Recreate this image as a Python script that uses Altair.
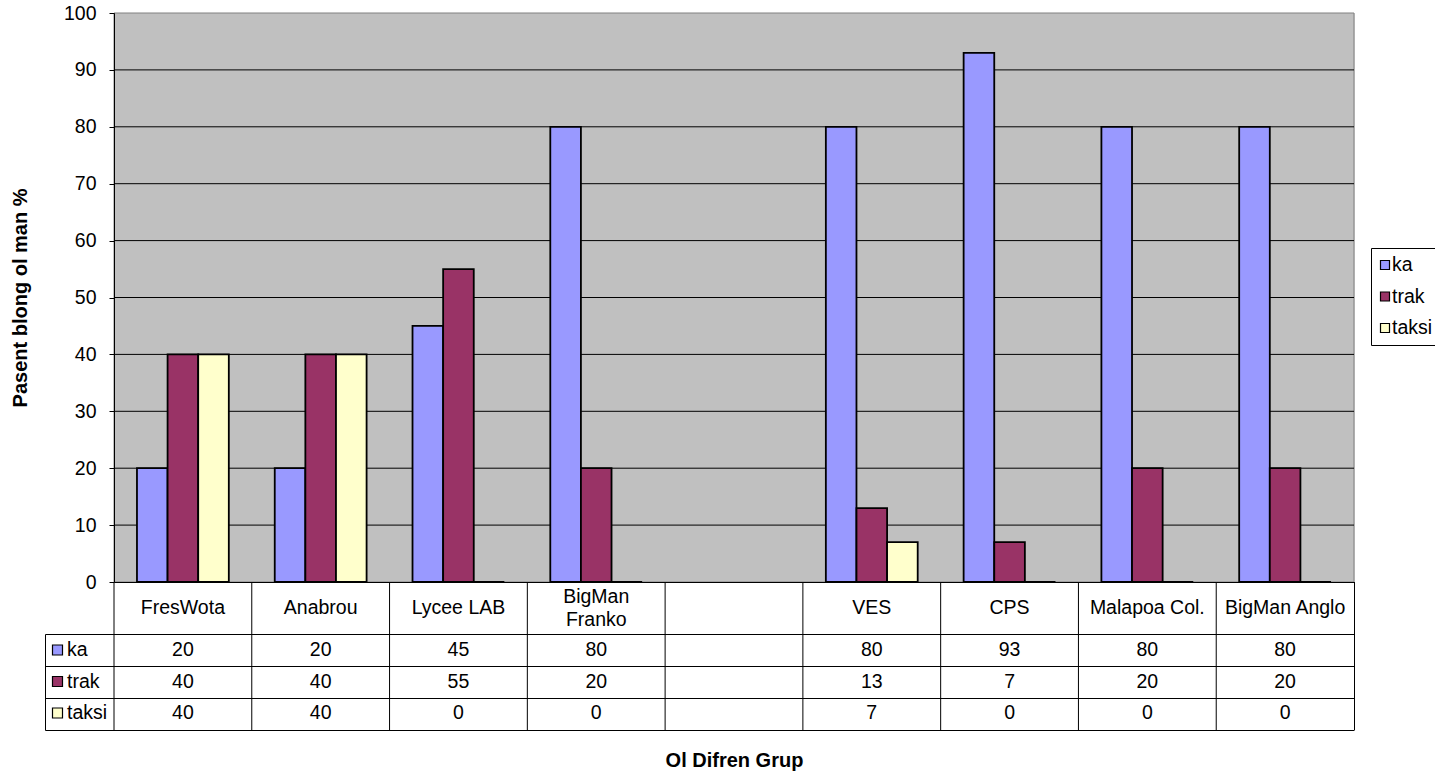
import altair as alt
import pandas as pd

# ---- data ----
categories = ["FresWota", "Anabrou", "Lycee LAB", "BigMan Franko", " ",
              "VES", "CPS", "Malapoa Col.", "BigMan Anglo"]
header_labels = ["FresWota", "Anabrou", "Lycee LAB", "BigMan\nFranko", "",
                 "VES", "CPS", "Malapoa Col.", "BigMan Anglo"]
series = ["ka", "trak", "taksi"]
ka = [20, 20, 45, 80, None, 80, 93, 80, 80]
trak = [40, 40, 55, 20, None, 13, 7, 20, 20]
taksi = [40, 40, 0, 0, None, 7, 0, 0, 0]
colors = ["#9999FF", "#993366", "#FFFFCC"]
y_ticks = [0, 10, 20, 30, 40, 50, 60, 70, 80, 90, 100]

recs = []
for si, (name, vals) in enumerate(zip(series, [ka, trak, taksi])):
    for c, v in zip(categories, vals):
        if v is not None:
            recs.append({"category": c, "series": name, "value": v, "row": si})
long = pd.DataFrame(recs)
header_df = pd.DataFrame({"category": categories, "label": header_labels})
header_df["multi"] = header_df["label"].str.contains("\n")
key_df = pd.DataFrame({"series": series, "row": list(range(len(series)))})
cat_df = pd.DataFrame({"category": categories})
grid_df = pd.DataFrame({"v": [t for t in y_ticks if 0 < t < 100]})
dummy = pd.DataFrame({"d": [0]})

FONT = "Liberation Sans"
FS = 19.5
W, H = 1240, 569

xscale = alt.Scale(domain=categories, paddingInner=0, paddingOuter=0)
yscale = alt.Scale(domain=[0, 100], nice=False)
rowscale = alt.Scale(domain=[0, 2], range=[637, 700])
legscale = alt.Scale(domain=[0, 2], range=[252, 315])
color_enc = alt.Color("series:N", scale=alt.Scale(domain=series, range=colors),
                      legend=None)

background = alt.Chart(dummy).mark_rect(
    fill="#C0C0C0", stroke="#808080", strokeWidth=1
).encode(x=alt.value(0), x2=alt.value(W), y=alt.value(0), y2=alt.value(H))

grid = alt.Chart(grid_df).mark_rule(color="black", strokeWidth=1).encode(
    y=alt.Y("v:Q", scale=yscale, axis=None), x=alt.value(0), x2=alt.value(W))

bars = alt.Chart(long).mark_bar(stroke="black", strokeWidth=1.8).encode(
    x=alt.X("category:N", scale=xscale, sort=categories,
            axis=alt.Axis(labels=False, ticks=False, domainColor="black",
                          domainWidth=1, zindex=1, title="Ol Difren Grup",
                          titleFont=FONT, titleFontSize=20, titleFontWeight="bold",
                          titleColor="black", titleX=W / 2, titleY=178,
                          titleAlign="center", titleBaseline="middle")),
    xOffset=alt.XOffset("series:N",
                        scale=alt.Scale(domain=series, paddingOuter=0.75, paddingInner=0)),
    y=alt.Y("value:Q", scale=yscale,
            axis=alt.Axis(values=y_ticks, grid=False, zindex=1,
                          domainColor="black", tickColor="black",
                          tickSize=5, labelPadding=13, labelFont=FONT,
                          labelFontSize=FS, labelColor="black",
                          title="Pasent blong ol man %", titleFont=FONT,
                          titleFontSize=20, titleFontWeight="bold",
                          titleColor="black", titleAngle=-90, titleX=-94,
                          titleY=H / 2, titleAlign="center",
                          titleBaseline="middle")),
    color=color_enc,
)

header_single = alt.Chart(header_df).transform_filter(
    "!datum.multi"
).mark_text(
    fontSize=FS, font=FONT, color="black", align="center", baseline="middle"
).encode(x=alt.X("category:N", scale=xscale), y=alt.value(595), text="label:N")

header_multi = alt.Chart(header_df).transform_filter(
    "datum.multi"
).mark_text(
    fontSize=FS, font=FONT, color="black", align="center", baseline="middle",
    lineBreak="\n", lineHeight=23,
).encode(x=alt.X("category:N", scale=xscale), y=alt.value(584), text="label:N")

values = alt.Chart(long).mark_text(
    fontSize=FS, font=FONT, color="black", align="center", baseline="middle"
).encode(
    x=alt.X("category:N", scale=xscale),
    y=alt.Y("row:Q", scale=rowscale, axis=None),
    text="value:Q",
)

# table key column
key_sq = alt.Chart(key_df).mark_square(
    size=100, stroke="black", strokeWidth=1.2, opacity=1, filled=True
).encode(
    x=alt.value(-56.5),
    y=alt.Y("row:Q", scale=rowscale, axis=None),
    color=color_enc,
)
key_txt = alt.Chart(key_df).mark_text(
    fontSize=FS, font=FONT, color="black", align="left", baseline="middle"
).encode(
    x=alt.value(-47),
    y=alt.Y("row:Q", scale=rowscale, axis=None),
    text="series:N",
)

# legend box on the right
leg_box = alt.Chart(dummy).mark_rect(
    fill="white", stroke="black", strokeWidth=1
).encode(x=alt.value(1257.5), x2=alt.value(1340), y=alt.value(235.5), y2=alt.value(332.5))
leg_sq = alt.Chart(key_df).mark_square(
    size=81, stroke="black", strokeWidth=1.2, opacity=1, filled=True
).encode(
    x=alt.value(1271),
    y=alt.Y("row:Q", scale=legscale, axis=None),
    color=color_enc,
)
leg_txt = alt.Chart(key_df).mark_text(
    fontSize=FS, font=FONT, color="black", align="left", baseline="middle"
).encode(
    x=alt.value(1278),
    y=alt.Y("row:Q", scale=legscale, axis=None),
    text="series:N",
)

line_layers = []
for yy in [621.5, 653.5, 685.5, 717.5]:
    line_layers.append(
        alt.Chart(dummy).mark_rule(color="black", strokeWidth=1).encode(
            x=alt.value(-68.5), x2=alt.value(W), y=alt.value(yy)))
line_layers.append(
    alt.Chart(dummy).mark_rule(color="black", strokeWidth=1).encode(
        x=alt.value(-68.5), y=alt.value(621.5), y2=alt.value(717.5)))
line_layers.append(
    alt.Chart(dummy).mark_rule(color="black", strokeWidth=1).encode(
        x=alt.value(W + 0.5), y=alt.value(H), y2=alt.value(717.5)))
line_layers.append(
    alt.Chart(cat_df).mark_rule(color="black", strokeWidth=1).encode(
        x=alt.X("category:N", scale=xscale, bandPosition=0),
        y=alt.value(H), y2=alt.value(717.5)))

chart = alt.layer(
    background, grid, bars, header_single, header_multi, values,
    key_sq, key_txt, leg_box, leg_sq, leg_txt, *line_layers
).resolve_scale(
    y="independent"
).properties(
    width=W, height=H,
    padding={"left": 114, "top": 13, "right": 81, "bottom": 191},
    autosize=alt.AutoSizeParams(type="none"),
).configure_view(
    stroke=None
).configure(
    font=FONT, background="white"
)

chart.save("out.html", embed_options={"renderer": "svg", "actions": False})
